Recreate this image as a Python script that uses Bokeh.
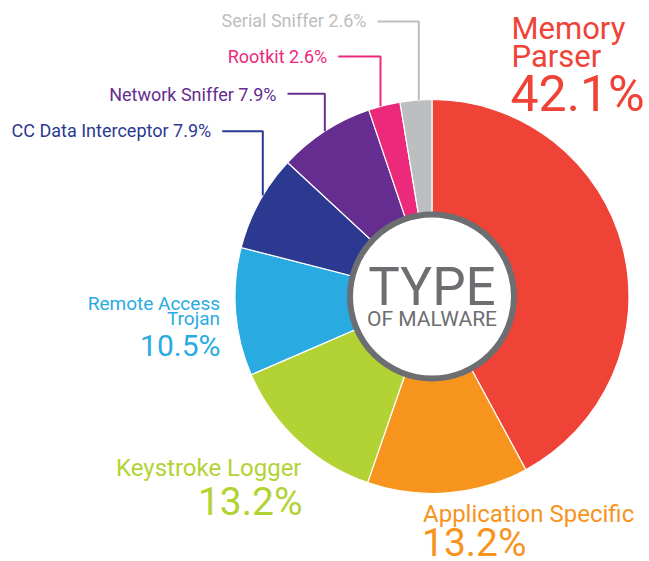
import math
from bokeh.plotting import figure
from bokeh.models import Range1d, ColumnDataSource
from bokeh.core.properties import value
from bokeh.embed import file_html
from bokeh.resources import INLINE

# ---------------- data ----------------
categories = ["Memory Parser", "Application Specific", "Keystroke Logger",
              "Remote Access Trojan", "CC Data Interceptor", "Network Sniffer",
              "Rootkit", "Serial Sniffer"]
shares = [42.1, 13.2, 13.2, 10.5, 7.9, 7.9, 2.6, 2.6]
colors = ["#EF4338", "#F7941E", "#B3D334", "#29ABE2", "#2B3990", "#662D91",
          "#EC297B", "#BCBEC0"]
center_title = ["TYPE", "OF MALWARE"]

FONT = "Roboto"
GREY = "#6D6E71"
BASE_SHIFT = 0.35  # observed offset of rendered baseline, in em

W, H = 649, 561
p = figure(width=W, height=H, output_backend="svg", toolbar_location=None,
           x_axis_type=None, y_axis_type=None, min_border=0,
           x_range=Range1d(0, W), y_range=Range1d(0, H))
p.outline_line_color = None
p.grid.visible = False
p.background_fill_color = "white"
p.border_fill_color = "white"

cx, cy, R = 431.5, 265.0, 197.0

total = sum(shares)
starts, ends = [], []
acc = 0.0
for s in shares:
    a0 = math.pi / 2 - 2 * math.pi * acc / total
    acc += s
    a1 = math.pi / 2 - 2 * math.pi * acc / total
    starts.append(a0)
    ends.append(a1)

src = ColumnDataSource(dict(cat=categories, share=shares, color=colors,
                            start=starts, end=ends))
p.wedge(x=cx, y=cy, radius=R, start_angle="start", end_angle="end",
        direction="clock", fill_color="color", line_color="white",
        line_width=1.2, source=src)

p.circle(x=cx, y=cy, radius=82, fill_color="white", line_color=GREY,
         line_width=6)


def label(x, y, txt, color, fs, align="left"):
    p.text(x=[x], y=[y + BASE_SHIFT * fs], text=[txt], text_font=value(FONT),
           text_font_size=f"{fs}px", text_color=color, text_align=align,
           text_baseline="alphabetic")


def pct(i):
    return f"{shares[i]}%"


label(cx, 256, center_title[0], GREY, 53, "center")
label(cx, 235, center_title[1], GREY, 21, "center")

label(511, 521.7, "Memory", colors[0], 31)
label(511, 494.3, "Parser", colors[0], 31)
label(510, 450, pct(0), colors[0], 50)

label(422.5, 39.3, "Application Specific", colors[1], 24)
label(421.5, 5, pct(1), colors[1], 39)

label(301, 85, "Keystroke Logger", colors[2], 24, "right")
label(302, 46, pct(2), colors[2], 39, "right")

label(219.5, 251, "Remote Access", colors[3], 19, "right")
label(219.5, 236, "Trojan", colors[3], 19, "right")
label(220, 206, pct(3), colors[3], 30, "right")

small = [
    (4, 210.7, 424.5, 430.3, 262.3),
    (5, 276.0, 461.2, 467.7, 324.3),
    (6, 326.7, 498.4, 505.0, 380.0),
    (7, 366.0, 534.4, 540.0, 418.3),
]
for i, xr, yb, ly, lx in small:
    label(xr, yb, f"{categories[i]} {pct(i)}", colors[i], 18, "right")
    y_edge = cy + math.sqrt(R * R - (lx - cx) ** 2)
    p.line(x=[xr + 11, lx, lx], y=[ly, ly, y_edge], line_color=colors[i],
           line_width=2)

open("out.html", "w").write(file_html(p, INLINE))
